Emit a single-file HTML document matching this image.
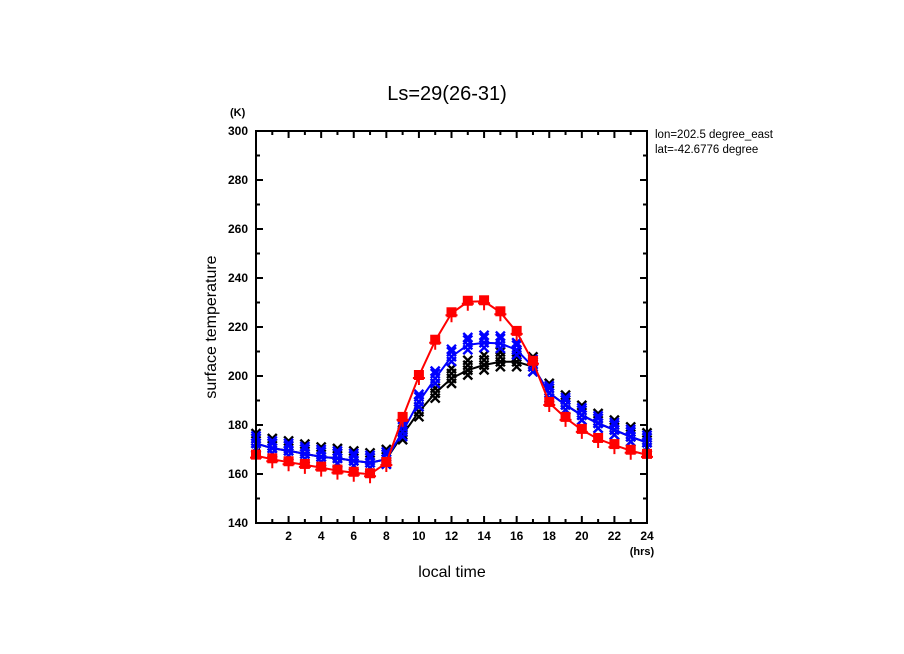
<!DOCTYPE html>
<html><head><meta charset="utf-8"><style>
html,body{margin:0;padding:0;background:#fff;}
svg{display:block;font-family:"Liberation Sans",sans-serif;}
</style></head><body>
<svg id="chart" width="904" height="654" viewBox="0 0 904 654">
<text x="447" y="100" font-size="20" text-anchor="middle">Ls=29(26-31)</text>
<text x="230" y="116" font-size="11" font-weight="bold">(K)</text>
<text x="655" y="138" font-size="11.5">lon=202.5 degree_east</text>
<text x="655" y="153" font-size="11.5">lat=-42.6776 degree</text>
<rect x="779" y="125" width="60" height="35" fill="#fff"/>
<text x="216" y="327" font-size="16" text-anchor="middle" transform="rotate(-90 216 327)">surface temperature</text>
<text x="452" y="577" font-size="16" text-anchor="middle">local time</text>
<text x="642" y="555" font-size="11" font-weight="bold" text-anchor="middle">(hrs)</text>
<g id="axes"></g>
<g id="series"></g>
<rect x="256" y="131" width="391" height="392" fill="none" stroke="#000" stroke-width="2"/>
</svg>
<script>
const hours=[0,1,2,3,4,5,6,7,8,9,10,11,12,13,14,15,16,17,18,19,20,21,22,23,24];
const redVals=[167.5,166,164.8,163.7,162.6,161.4,160.5,159.9,164.5,182.9,200,214.4,225.6,230.3,230.5,226,218,205.8,189,182.9,178,174.3,171.8,169.5,167.8];
const blueVals=[172.5,170.5,169.5,168.2,167,166.4,165.4,164.6,166,177.3,189.5,199,207.9,212.7,213.6,213.3,210.6,203.8,193,188.2,184,180.7,178,175.2,172.8];
const blackVals=[172.5,170.5,169.5,168.2,167,166.4,165.4,164.6,166,176,185.4,193,199,202.4,204.5,205.8,205.8,203.8,193,188.2,184,180.7,178,175.2,172.8];
const yTicks=[140,160,180,200,220,240,260,280,300];
const xTicks=[2,4,6,8,10,12,14,16,18,20,22,24];
const NS="http://www.w3.org/2000/svg";
const X0=256,X1=647,Y0=523,Y1=131;
function xs(h){return X0+(h-0)/(24-0)*(X1-X0);}
function ys(v){return Y0-(v-140)/(300-140)*(Y0-Y1);}
function mk(tag,attrs,parent){const e=document.createElementNS(NS,tag);for(const k in attrs)e.setAttribute(k,attrs[k]);parent.appendChild(e);return e;}
const ax=document.getElementById('axes');
for(let h=0;h<=24;h++){
  const L=(h%2===0)?7:4;
  mk('line',{x1:xs(h),x2:xs(h),y1:Y0,y2:Y0-L,stroke:'#000','stroke-width':2},ax);
  mk('line',{x1:xs(h),x2:xs(h),y1:Y1,y2:Y1+L,stroke:'#000','stroke-width':2},ax);
}
for(let v=140;v<=300;v+=10){
  const L=(v%20===0)?7:4;
  mk('line',{x1:X0,x2:X0+L,y1:ys(v),y2:ys(v),stroke:'#000','stroke-width':2},ax);
  mk('line',{x1:X1,x2:X1-L,y1:ys(v),y2:ys(v),stroke:'#000','stroke-width':2},ax);
}
xTicks.forEach(t=>{const e=mk('text',{x:xs(t),y:Y0+17,'font-size':12,'font-weight':'bold','text-anchor':'middle'},ax);e.textContent=t;

});
yTicks.forEach(t=>{const e=mk('text',{x:X0-8,y:ys(t)+4,'font-size':12,'font-weight':'bold','text-anchor':'end'},ax);e.textContent=t;

});
const sg=document.getElementById('series');
function drawX(cx,cy,col,g){mk('path',{d:`M${cx-4.5},${cy-4.5}L${cx+4.5},${cy+4.5}M${cx+4.5},${cy-4.5}L${cx-4.5},${cy+4.5}`,stroke:col,'stroke-width':2.4},g);}
function drawLine(vals,col,name){
  const d=hours.map((h,i)=>(i?'L':'M')+xs(h).toFixed(1)+','+ys(vals[i]).toFixed(1)).join('');
  const p=mk('path',{d:d,fill:'none',stroke:col,'stroke-width':2},sg);
  
  
}
const gb=mk('g',{},sg);


hours.forEach((h,i)=>{[-2,0,2,4].forEach(o=>drawX(xs(h),ys(blackVals[i]+o),'#000',gb));});
drawLine(blackVals,'#000','black-series-line');
const gbl=mk('g',{},sg);


hours.forEach((h,i)=>{[-2,0,2,3].forEach(o=>drawX(xs(h),ys(blueVals[i]+o),'#0000ff',gbl));});
drawLine(blueVals,'#0000ff','blue-series-line');
const gr=mk('g',{},sg);


hours.forEach((h,i)=>{
  const cx=xs(h),cy=ys(redVals[i]);
  mk('rect',{x:cx-5,y:cy-6,width:10,height:10,fill:'#ff0000'},gr);
  mk('path',{d:`M${cx-6},${cy+2}L${cx+6},${cy+2}M${cx},${cy-4}L${cx},${cy+9}`,stroke:'#ff0000','stroke-width':2},gr);
});
drawLine(redVals,'#ff0000','red-series-line');
</script>
</body></html>
